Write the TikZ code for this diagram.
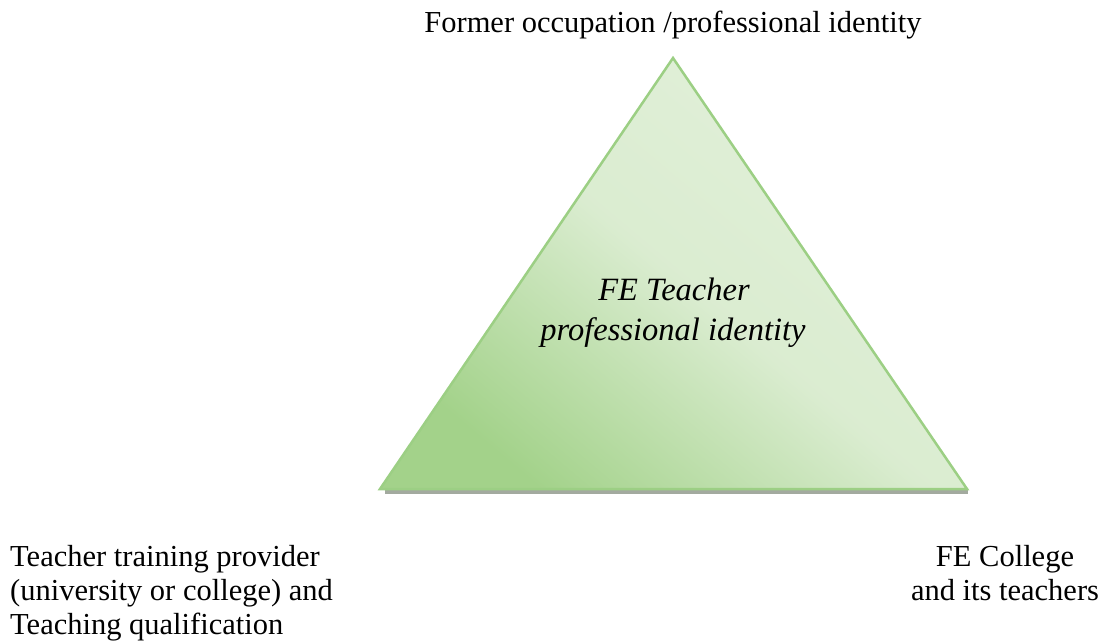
\documentclass[tikz,border=0pt]{standalone}
\usepackage{fontspec}
\setmainfont{Liberation Serif}
\definecolor{tridark}{HTML}{A3D28A}
\definecolor{trilight}{HTML}{E2F0DA}
\definecolor{triedge}{HTML}{9CCF84}
\definecolor{trishadow}{HTML}{A3AA9F}
\tikzset{
  lbl/.style={inner sep=0pt, font=\fontsize{30.5}{34}\selectfont},
  ctr/.style={inner sep=0pt, font=\fontsize{32.5}{37}\selectfont\itshape}
}
\begin{document}
\begin{tikzpicture}[x=1pt,y=-1pt]
\useasboundingbox (0,0) rectangle (1116,644);
\coordinate (A) at (673,58);
\coordinate (B) at (380,489);
\coordinate (C) at (967,489);
% shadow
\fill[trishadow] (385,489) rectangle (968,494);
\shade[top color=trilight, bottom color=tridark, middle color=trilight!88!tridark, shading angle=-40] (A) -- (B) -- (C) -- cycle;
\draw[triedge, line width=2.5pt, line join=miter] (A) -- (B) -- (C) -- cycle;
\node[lbl, anchor=base] (top) at (673,33) {Former occupation /professional identity};
\node[ctr, anchor=base] (c1) at (674,301) {FE Teacher};
\node[ctr, anchor=base] (c2) at (673,340) {professional identity};
\node[lbl, anchor=base west] (l1) at (10,566) {Teacher training provider};
\node[lbl, anchor=base west] (l2) at (10,600) {(university or college) and};
\node[lbl, anchor=base west] (l3) at (10,634) {Teaching qualification};
\node[lbl, anchor=base] (r1) at (1005,566) {FE College};
\node[lbl, anchor=base] (r2) at (1005,600) {and its teachers};
\end{tikzpicture}
\end{document}
